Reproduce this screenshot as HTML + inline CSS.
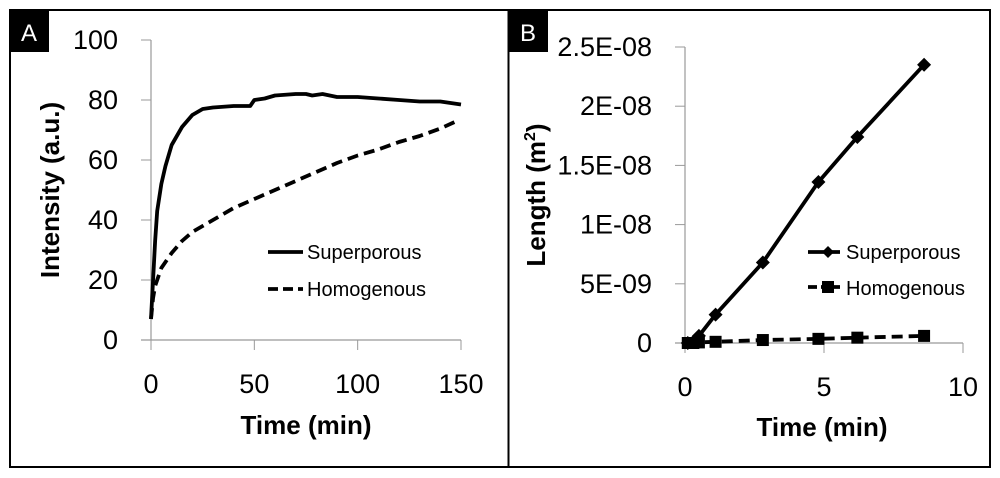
<!DOCTYPE html>
<html><head><meta charset="utf-8"><style>
body{margin:0;background:#fff;}
svg{display:block;font-family:"Liberation Sans",sans-serif;}
</style></head><body>
<svg id="fig" width="1000" height="478" viewBox="0 0 1000 478">
<rect x="10" y="10" width="980" height="457" fill="#fff" stroke="#000" stroke-width="2"/>
<line x1="508.5" y1="10" x2="508.5" y2="467" stroke="#000" stroke-width="2"/>
<rect x="10" y="10" width="39" height="42" fill="#000"/>
<text x="29" y="41" fill="#fff" font-size="24" text-anchor="middle">A</text>
<rect x="509" y="10" width="39" height="42" fill="#000"/>
<text x="528" y="41" fill="#fff" font-size="24" text-anchor="middle">B</text>
<g id="pa"></g>
<g id="pb"></g>
</svg>
<script>
const aTicksY=[0,20,40,60,80,100];
const aTicksX=[0,50,100,150];
const aSupT=[0,1,2,3,5,7,10,15,20,25,30,40,48,50,55,60,70,75,78,83,90,100,110,120,130,140,150];
const aSupV=[7,20,33,43,52,58,65,71,75,77,77.5,78,78,80,80.5,81.5,82,82,81.5,82,81,81,80.5,80,79.5,79.5,78.5];
const aHomT=[0,1,2,5,10,15,20,30,40,50,60,70,80,90,100,110,120,130,140,148];
const aHomV=[7,14,18,24,29,33,36,40,44,47,50,53,56,59,61.5,63.5,66,68,70.5,73];
const bTicksY=[0,5e-9,1e-8,1.5e-8,2e-8,2.5e-8];
const bTickLabels=["0","5E-09","1E-08","1.5E-08","2E-08","2.5E-08"];
const bTicksX=[0,5,10];
const bT=[0.1,0.3,0.5,1.1,2.8,4.8,6.2,8.6];
const bSupV=[0,0.1e-9,0.6e-9,2.4e-9,6.8e-9,13.6e-9,17.4e-9,23.5e-9];
const bHomV=[0,0,0.05e-9,0.1e-9,0.25e-9,0.35e-9,0.45e-9,0.6e-9];
const NS="http://www.w3.org/2000/svg";
function mk(p,t,a){const e=document.createElementNS(NS,t);for(const k in a)e.setAttribute(k,a[k]);p.appendChild(e);return e;}
function axes(g,x0,x1,y0,y1,xmax,ymax,tx,ty,tyl){
 const sx=v=>x0+(x1-x0)*v/xmax, sy=v=>y0-(y0-y1)*v/ymax;
 let e=mk(g,'line',{x1:x0,y1:y1,x2:x0,y2:y0,stroke:'#999','stroke-width':1.2});
 
 
 e=mk(g,'line',{x1:x0-10,y1:y0,x2:x1,y2:y0,stroke:'#999','stroke-width':1.2});
 
 
 ty.forEach((v,i)=>{mk(g,'line',{x1:x0-10,y1:sy(v),x2:x0,y2:sy(v),stroke:'#999'});
  const t=mk(g,'text',{x:x0-33,y:sy(v)+9,'font-size':27,'text-anchor':'end'});t.textContent=tyl?tyl[i]:v;
  
  });
 tx.forEach(v=>{mk(g,'line',{x1:sx(v),y1:y0,x2:sx(v),y2:y0+10,stroke:'#999'});
  const t=mk(g,'text',{x:sx(v),y:y0+53,'font-size':27,'text-anchor':'middle'});t.textContent=v;
  
  });
 return [sx,sy];
}
function line(g,sx,sy,T,V,dash,name){
 const e=mk(g,'polyline',{points:T.map((t,i)=>sx(t)+','+sy(V[i])).join(' '),fill:'none',stroke:'#000','stroke-width':3.8,'stroke-dasharray':dash||'none','stroke-linejoin':'round'});
 
 
}
const pa=document.getElementById('pa');
let [sx,sy]=axes(pa,151,461,340,40,150,100,aTicksX,aTicksY);
line(pa,sx,sy,aSupT,aSupV,null,'superporous-line');
line(pa,sx,sy,aHomT,aHomV,'11,6','homogenous-line');
const pb=document.getElementById('pb');
let [bx,by]=axes(pb,685,963,343,47,10,2.5e-8,bTicksX,bTicksY,bTickLabels);
line(pb,bx,by,bT,bSupV,null,'superporous-line');
line(pb,bx,by,bT,bHomV,'11,6','homogenous-line');
bT.forEach((t,i)=>{const x=bx(t),y=by(bSupV[i]);
 const d=mk(pb,'polygon',{points:`${x},${y-7} ${x+7},${y} ${x},${y+7} ${x-7},${y}`,fill:'#000'});
 
 
 const s=mk(pb,'rect',{x:bx(t)-6,y:by(bHomV[i])-6,width:12,height:12,fill:'#000'});
 
 });
</script>
<script>
const fig=document.getElementById('fig');
function txt(a,s,name){const e=mk(fig,'text',a);e.innerHTML=s;return e;}
txt({x:306,y:434,'font-size':26,'font-weight':'bold','text-anchor':'middle'},'Time (min)','x-axis-title-a');
txt({x:0,y:0,'font-size':26,'font-weight':'bold','text-anchor':'middle',transform:'translate(59,190) rotate(-90)'},'Intensity (a.u.)','y-axis-title-a');
txt({x:822,y:436,'font-size':26,'font-weight':'bold','text-anchor':'middle'},'Time (min)','x-axis-title-b');
txt({x:0,y:0,'font-size':26,'font-weight':'bold','text-anchor':'middle',transform:'translate(545,195) rotate(-90)'},'Length (m<tspan font-size="16" dy="-10">2</tspan><tspan dy="10">)</tspan>','y-axis-title-b');
mk(fig,'line',{x1:268,y1:252,x2:303,y2:252,stroke:'#000','stroke-width':3.8});
mk(fig,'line',{x1:268,y1:289,x2:303,y2:289,stroke:'#000','stroke-width':3.8,'stroke-dasharray':'10,5'});
txt({x:307,y:259,'font-size':20},'Superporous','legend-a-superporous');
txt({x:307,y:296,'font-size':20},'Homogenous','legend-a-homogenous');
mk(fig,'line',{x1:808,y1:252,x2:840,y2:252,stroke:'#000','stroke-width':3.8});
mk(fig,'polygon',{points:'828,246 834,252 828,258 822,252',fill:'#000'});
mk(fig,'line',{x1:808,y1:287,x2:840,y2:287,stroke:'#000','stroke-width':3.8,'stroke-dasharray':'9,4'});
mk(fig,'rect',{x:822,y:281,width:12,height:12,fill:'#000'});
txt({x:846,y:259,'font-size':20},'Superporous','legend-b-superporous');
txt({x:846,y:295,'font-size':20},'Homogenous','legend-b-homogenous');
</script>
</body></html>
